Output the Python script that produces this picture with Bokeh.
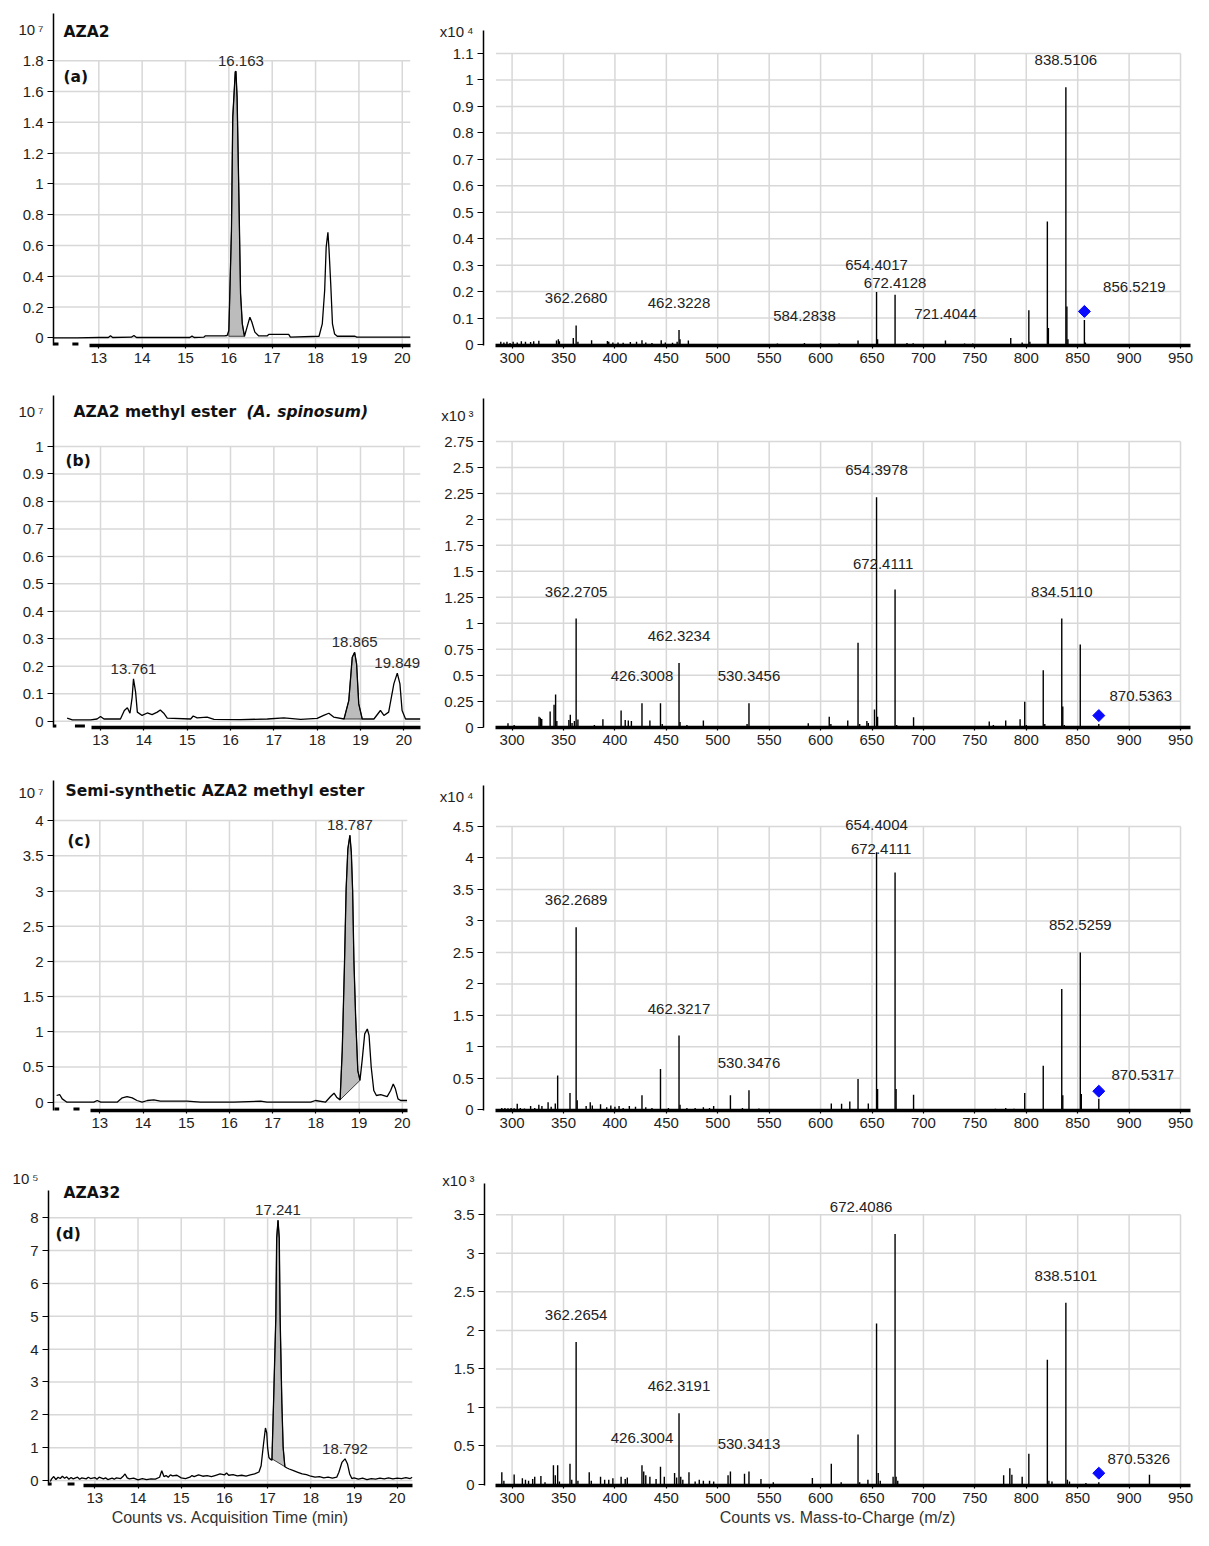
import math
from bokeh.plotting import figure
from bokeh.layouts import column, row
from bokeh.models import (FixedTicker, CustomJSTickFormatter, Label, ColumnDataSource,
                          LinearAxis)
from bokeh.embed import file_html
from bokeh.resources import INLINE
from bokeh.core.properties import value

# ======================= DATA =======================
rt_ticks = [13, 14, 15, 16, 17, 18, 19, 20]
mz_ticks = [300, 350, 400, 450, 500, 550, 600, 650, 700, 750, 800, 850, 900, 950]

# ---- (a) AZA2 chromatogram, counts x10^7
chrom_a_t = [11.96, 12.5, 13.0, 13.22, 13.27, 13.32, 13.75, 13.81, 13.87, 15.1, 15.15, 15.2,
             15.42, 15.46, 15.9, 15.96, 16.0, 16.06, 16.09, 16.148, 16.163, 16.19, 16.23, 16.27,
             16.31, 16.36, 16.42, 16.485, 16.53, 16.6, 16.69, 16.88, 16.92, 17.38, 17.42, 18.08,
             18.155, 18.21, 18.245, 18.285, 18.31, 18.35, 18.39, 18.44, 18.5, 18.91, 18.95, 20.19]
chrom_a_v = [0.0, 0.0, 0.002, 0.002, 0.013, 0.002, 0.004, 0.015, 0.002, 0.002, 0.011, 0.002,
             0.004, 0.013, 0.013, 0.015, 0.047, 0.70, 1.433, 1.729, 1.732, 1.563, 0.946, 0.286,
             0.091, 0.01, 0.069, 0.134, 0.103, 0.037, 0.012, 0.012, 0.022, 0.022, 0.004, 0.01,
             0.09, 0.307, 0.589, 0.686, 0.576, 0.35, 0.09, 0.024, 0.01, 0.01, 0.004, 0.004]
chrom_a_yticks = [0, 0.2, 0.4, 0.6, 0.8, 1, 1.2, 1.4, 1.6, 1.8]
chrom_a_peak_rt = [16.163]
chrom_a_peak_h = [1.732]
chrom_a_shade_t = [16.0, 16.36]
chrom_a_shade_base = [0.01, 0.01]

# ---- (b) AZA2 methyl ester (A. spinosum), counts x10^7
chrom_b_t = [12.23, 12.35, 12.77, 12.92, 13.0, 13.08, 13.46, 13.55, 13.62, 13.68, 13.73, 13.761,
             13.81, 13.85, 13.96, 14.08, 14.19, 14.31, 14.38, 14.46, 14.54, 15.08, 15.14, 15.23,
             15.46, 15.62, 16.23, 16.85, 17.23, 17.62, 18.0, 18.15, 18.27, 18.38, 18.62, 18.73,
             18.81, 18.865, 18.91, 18.96, 19.04, 19.31, 19.46, 19.54, 19.65, 19.77, 19.849, 19.91,
             19.96, 20.04, 20.38]
chrom_b_v = [0.011, 0.005, 0.005, 0.008, 0.017, 0.008, 0.008, 0.039, 0.049, 0.029, 0.087, 0.154,
             0.106, 0.033, 0.021, 0.030, 0.024, 0.033, 0.041, 0.029, 0.011, 0.008, 0.019, 0.012,
             0.015, 0.007, 0.006, 0.008, 0.012, 0.007, 0.010, 0.021, 0.029, 0.015, 0.008, 0.075,
             0.233, 0.251, 0.209, 0.063, 0.008, 0.008, 0.039, 0.021, 0.033, 0.136, 0.175, 0.136,
             0.039, 0.008, 0.008]
chrom_b_yticks = [0, 0.1, 0.2, 0.3, 0.4, 0.5, 0.6, 0.7, 0.8, 0.9, 1]
chrom_b_peak_rt = [13.761, 18.865, 19.849]
chrom_b_peak_h = [0.154, 0.251, 0.175]
chrom_b_shade_t = [18.62, 19.04]
chrom_b_shade_base = [0.008, 0.008]

# ---- (c) Semi-synthetic AZA2 methyl ester, counts x10^7
chrom_c_t = [12.0, 12.07, 12.13, 12.24, 12.86, 12.94, 13.02, 13.4, 13.52, 13.63, 13.75, 13.86,
             13.98, 14.1, 14.25, 14.4, 15.02, 15.33, 16.1, 16.72, 16.87, 17.88, 17.99, 18.22,
             18.34, 18.42, 18.48, 18.56, 18.61, 18.66, 18.70, 18.74, 18.787, 18.82, 18.85, 18.88,
             18.92, 18.97, 19.02, 19.07, 19.13, 19.19, 19.23, 19.28, 19.34, 19.4, 19.5, 19.65,
             19.73, 19.79, 19.84, 19.9, 19.96, 20.11]
chrom_c_v = [0.095, 0.109, 0.047, 0.0, 0.0, 0.024, 0.0, 0.0, 0.062, 0.08, 0.062, 0.024,
             0.0, 0.024, 0.033, 0.014, 0.014, 0.0, 0.0, 0.014, 0.0, 0.0, 0.024, 0.0,
             0.08, 0.128, 0.071, 0.033, 0.734, 1.918, 3.03, 3.6, 3.79, 3.55, 3.01, 2.01,
             1.21, 0.45, 0.31, 0.59, 0.97, 1.04, 0.95, 0.5, 0.166, 0.095, 0.109, 0.08,
             0.166, 0.26, 0.19, 0.047, 0.024, 0.024]
chrom_c_yticks = [0, 0.5, 1, 1.5, 2, 2.5, 3, 3.5, 4]
chrom_c_peak_rt = [18.787]
chrom_c_peak_h = [3.79]
chrom_c_shade_t = [18.56, 19.02]
chrom_c_shade_base = [0.033, 0.31]

# ---- (d) AZA32, counts x10^5
chrom_d_t = [11.97, 12.0, 12.05, 12.1, 12.15, 12.2, 12.25, 12.3, 12.35, 12.4, 12.45, 12.5, 12.6,
             12.65, 12.7, 12.8, 12.85, 12.9, 13.0, 13.05, 13.1, 13.2, 13.25, 13.3, 13.4, 13.45,
             13.5, 13.6, 13.65, 13.7, 13.75, 13.8, 13.9, 14.0, 14.1, 14.2, 14.3, 14.4, 14.5,
             14.55, 14.6, 14.65, 14.7, 14.75, 14.8, 14.9, 15.0, 15.1, 15.2, 15.25, 15.3, 15.4,
             15.5, 15.6, 15.7, 15.8, 15.9, 16.0, 16.05, 16.1, 16.2, 16.3, 16.4, 16.5, 16.6,
             16.7, 16.8, 16.85, 16.9, 16.95, 16.98, 17.0, 17.03, 17.06, 17.1, 17.14, 17.19,
             17.21, 17.241, 17.27, 17.29, 17.33, 17.36, 17.4, 17.45, 17.5, 17.6, 17.7, 17.8,
             17.9, 18.0, 18.1, 18.2, 18.3, 18.4, 18.5, 18.6, 18.65, 18.72, 18.792, 18.85, 18.9,
             18.95, 19.0, 19.1, 19.2, 19.3, 19.4, 19.5, 19.6, 19.7, 19.8, 19.9, 20.0, 20.1,
             20.2, 20.3, 20.35]
chrom_d_v = [-0.03, 0.05, 0.12, 0.03, 0.10, 0.06, 0.13, 0.07, 0.11, 0.04, 0.09, 0.05, 0.10,
             0.04, 0.08, 0.05, 0.10, 0.06, 0.09, 0.04, 0.10, 0.05, 0.08, 0.03, 0.07, 0.04,
             0.08, 0.06, 0.12, 0.20, 0.08, 0.05, 0.07, 0.02, 0.06, 0.03, 0.05, 0.04, 0.10,
             0.30, 0.12, 0.15, 0.10, 0.17, 0.14, 0.16, 0.08, 0.06, 0.10, 0.15, 0.12, 0.17,
             0.13, 0.15, 0.12, 0.16, 0.20, 0.17, 0.23, 0.16, 0.18, 0.14, 0.16, 0.13, 0.17,
             0.20, 0.26, 0.45, 1.05, 1.60, 1.45, 1.00, 0.70, 0.65, 0.62, 2.49, 4.96,
             7.38, 7.92, 7.38, 4.96, 2.35, 1.00, 0.42, 0.38, 0.35, 0.30, 0.25, 0.20,
             0.18, 0.13, 0.10, 0.12, 0.08, 0.10, 0.07, 0.10, 0.25, 0.55, 0.66, 0.50, 0.20,
             0.06, 0.08, 0.04, 0.07, 0.03, 0.06, 0.04, 0.07, 0.05, 0.08, 0.05, 0.07, 0.06,
             0.09, 0.06, 0.10]
chrom_d_yticks = [0, 1, 2, 3, 4, 5, 6, 7, 8]
chrom_d_peak_rt = [17.241, 18.792]
chrom_d_peak_h = [7.92, 0.66]
chrom_d_shade_t = [17.1, 17.4]
chrom_d_shade_base = [0.66, 0.42]

# ---- (a) MS/MS spectrum, counts x10^4
spec_a_mz = [289.0, 292.0, 295.0, 298.0, 301.0, 305.0, 309.0, 313.0, 318.0, 321.0,
             326.0, 343.2, 345.0, 346.0, 359.5, 362.2680, 364.0, 377.3, 392.7, 394.0,
             398.0, 403.0, 408.0, 415.0, 421.0, 426.3, 430.0, 436.0, 445.0, 449.0,
             456.0, 460.5, 462.3228, 463.3, 471.4, 558.0, 584.2838, 600.0, 618.0, 636.4,
             654.4017, 655.4, 672.4128, 684.0, 690.0, 721.4044, 740.0, 748.0, 784.9, 796.0,
             802.5, 803.5, 820.5, 821.5, 838.5106, 839.5, 840.5, 856.5219, 857.5]
spec_a_h = [0.010, 0.008, 0.010, 0.006, 0.010, 0.008, 0.012, 0.010, 0.009, 0.012,
            0.014, 0.015, 0.020, 0.012, 0.025, 0.072, 0.010, 0.016, 0.013, 0.010,
            0.008, 0.008, 0.007, 0.009, 0.010, 0.016, 0.008, 0.006, 0.016, 0.008,
            0.007, 0.010, 0.055, 0.020, 0.015, 0.004, 0.006, 0.005, 0.004, 0.015,
            0.198, 0.020, 0.188, 0.006, 0.005, 0.015, 0.004, 0.004, 0.025, 0.008,
            0.129, 0.010, 0.465, 0.062, 0.973, 0.144, 0.020, 0.093, 0.008]
spec_a_yticks = [0, 0.1, 0.2, 0.3, 0.4, 0.5, 0.6, 0.7, 0.8, 0.9, 1, 1.1]
spec_a_labels = [362.2680, 462.3228, 584.2838, 654.4017, 672.4128, 721.4044, 838.5106, 856.5219]
spec_a_precursor = [856.5219]
spec_a_precursor_y = [0.125]

# ---- (b) MS/MS spectrum, counts x10^3
spec_b_mz = [296.0, 302.0, 326.2, 327.5, 328.8, 337.0, 340.8, 342.3, 343.5, 355.2,
             356.6, 358.3, 360.6, 362.2705, 364.0, 380.0, 388.3, 406.0, 410.0, 413.0,
             416.0, 426.3008, 434.0, 444.3, 446.0, 462.3234, 463.3, 470.0, 486.0, 528.5,
             530.3456, 588.0, 608.4, 610.0, 626.4, 636.4, 638.0, 645.0, 646.4, 652.4,
             654.3978, 655.4, 672.4111, 674.0, 690.4, 764.0, 768.0, 780.0, 794.0, 798.5,
             800.0, 816.5, 818.0, 834.5110, 835.5, 837.0, 852.5, 870.5363]
spec_b_h = [0.038, 0.020, 0.100, 0.090, 0.080, 0.150, 0.215, 0.314, 0.060, 0.070,
            0.119, 0.040, 0.060, 1.046, 0.074, 0.020, 0.077, 0.160, 0.070, 0.065,
            0.060, 0.231, 0.064, 0.231, 0.030, 0.619, 0.050, 0.020, 0.064, 0.030,
            0.231, 0.038, 0.100, 0.030, 0.064, 0.812, 0.030, 0.060, 0.040, 0.170,
            2.214, 0.100, 1.325, 0.020, 0.096, 0.055, 0.020, 0.064, 0.077, 0.244,
            0.020, 0.549, 0.030, 1.046, 0.200, 0.020, 0.796, 0.030]
spec_b_yticks = [0, 0.25, 0.5, 0.75, 1, 1.25, 1.5, 1.75, 2, 2.25, 2.5, 2.75]
spec_b_labels = [362.2705, 426.3008, 462.3234, 530.3456, 654.3978, 672.4111, 834.5110, 870.5363]
spec_b_precursor = [870.5363]
spec_b_precursor_y = [0.112]

# ---- (c) MS/MS spectrum, counts x10^4
spec_c_mz = [290.0, 293.0, 296.0, 299.0, 302.0, 305.0, 308.0, 312.0, 318.0, 322.0,
             326.0, 329.0, 335.0, 338.0, 342.0, 344.3, 356.3, 362.2689, 363.3, 372.0,
             376.0, 378.0, 386.0, 392.0, 396.0, 400.0, 404.0, 408.0, 414.0, 420.0,
             426.3, 430.0, 436.0, 444.3, 452.0, 462.3217, 463.3, 470.0, 478.0, 486.0,
             492.0, 496.0, 512.3, 524.0, 530.3476, 540.0, 570.0, 590.0, 600.0, 610.4,
             620.4, 628.4, 636.4, 646.4, 654.4004, 655.4, 672.4111, 673.4, 690.4, 770.0,
             780.0, 788.0, 798.5, 806.0, 816.5, 834.5, 835.5, 852.5259, 853.5, 870.5317]
spec_c_h = [0.030, 0.030, 0.025, 0.030, 0.025, 0.095, 0.030, 0.020, 0.060, 0.030,
            0.080, 0.060, 0.120, 0.050, 0.100, 0.545, 0.265, 2.900, 0.150, 0.060,
            0.120, 0.070, 0.090, 0.040, 0.070, 0.050, 0.060, 0.030, 0.060, 0.050,
            0.230, 0.040, 0.030, 0.650, 0.030, 1.180, 0.080, 0.030, 0.030, 0.040,
            0.030, 0.060, 0.230, 0.030, 0.310, 0.020, 0.010, 0.010, 0.010, 0.100,
            0.095, 0.130, 0.490, 0.100, 4.090, 0.330, 3.770, 0.330, 0.240, 0.015,
            0.030, 0.015, 0.265, 0.010, 0.700, 1.920, 0.230, 2.500, 0.250, 0.175]
spec_c_yticks = [0, 0.5, 1, 1.5, 2, 2.5, 3, 3.5, 4, 4.5]
spec_c_labels = [362.2689, 462.3217, 530.3476, 654.4004, 672.4111, 852.5259, 870.5317]
spec_c_precursor = [870.5317]
spec_c_precursor_y = [0.296]

# ---- (d) MS/MS spectrum, counts x10^3
spec_d_mz = [290.0, 292.0, 302.0, 310.0, 313.0, 316.0, 320.0, 322.0, 328.0, 332.0,
             340.2, 342.0, 344.3, 346.0, 356.3, 358.0, 362.2654, 364.0, 375.0, 377.0,
             386.0, 390.0, 394.0, 398.0, 406.0, 410.0, 412.0, 426.3004, 428.0, 430.0,
             434.0, 440.0, 444.3, 448.0, 458.0, 460.0, 462.3191, 464.0, 466.0, 472.0,
             478.0, 482.0, 486.0, 492.0, 496.0, 510.0, 512.3, 526.0, 530.3413, 542.0,
             554.0, 592.0, 610.4, 620.0, 636.4, 638.0, 646.0, 654.4, 656.0, 658.0,
             670.5, 672.4086, 673.4, 675.0, 778.0, 784.0, 786.0, 796.0, 802.5, 820.5,
             822.0, 825.0, 838.5101, 840.0, 842.0, 858.0, 870.5326, 919.8]
spec_d_h = [0.160, 0.050, 0.130, 0.080, 0.060, 0.050, 0.070, 0.100, 0.110, 0.030,
            0.250, 0.120, 0.250, 0.040, 0.270, 0.060, 1.850, 0.050, 0.160, 0.050,
            0.100, 0.060, 0.060, 0.080, 0.100, 0.070, 0.090, 0.250, 0.170, 0.120,
            0.100, 0.070, 0.230, 0.100, 0.150, 0.090, 0.925, 0.100, 0.060, 0.160,
            0.040, 0.060, 0.050, 0.050, 0.040, 0.120, 0.170, 0.140, 0.170, 0.070,
            0.030, 0.084, 0.270, 0.030, 0.650, 0.030, 0.060, 2.090, 0.150, 0.050,
            0.100, 3.250, 0.100, 0.050, 0.120, 0.210, 0.126, 0.100, 0.400, 1.620,
            0.050, 0.040, 2.360, 0.060, 0.040, 0.020, 0.030, 0.126]
spec_d_yticks = [0, 0.5, 1, 1.5, 2, 2.5, 3, 3.5]
spec_d_labels = [362.2654, 426.3004, 462.3191, 530.3413, 672.4086, 838.5101, 870.5326]
spec_d_precursor = [870.5326]
spec_d_precursor_y = [0.147]

chrom_titles = ["AZA2", "AZA2 methyl ester", "Semi-synthetic AZA2 methyl ester", "AZA32"]
chrom_title_italic = ["", "(A. spinosum)", "", ""]
panel_tags = ["(a)", "(b)", "(c)", "(d)"]
chrom_scale_text = ["10\u2009\u2077", "10\u2009\u2077", "10\u2009\u2077", "10\u2009\u2075"]
spec_scale_text = ["x10\u2009\u2074", "x10\u2009\u00b3", "x10\u2009\u2074", "x10\u2009\u00b3"]
xlabel_time = "Counts vs. Acquisition Time (min)"
xlabel_mz = "Counts vs. Mass-to-Charge (m/z)"

# ======================= LAYOUT / STYLE =======================
LEFT_W, RIGHT_W = 430, 763
ROW_Y = [0, 383, 765, 1150]
ROW_H = [383, 382, 385, 380]
ROW_MBT = [13, 12, 15, 25]
ROW_MBB = [38, 38, 40, 45]
GRID = "#d8d8d8"
NUM_FONT = "Liberation Sans"
TITLE_FONT = "DejaVu Sans"
TXT = "#1e1e1e"

chrom_geom = [
    dict(mbl=53, mbr=20, xr=(11.955, 20.19), yr=(-0.05, 2.107), ytop=2.107, exp=2.003,
         ax0=12.79, dashes=[(11.96, 12.07), (12.39, 12.53)]),
    dict(mbl=53, mbr=10, xr=(11.915, 20.385), yr=(-0.0229, 1.1857), ytop=1.1857, exp=1.127,
         ax0=12.80, dashes=[(11.92, 11.98), (12.41, 12.64)]),
    dict(mbl=53, mbr=23, xr=(11.928, 20.12), yr=(-0.118, 4.57), ytop=4.57, exp=4.399,
         ax0=12.78, dashes=[(11.95, 12.06), (12.39, 12.53)]),
    dict(mbl=48, mbr=18, xr=(11.928, 20.354), yr=(-0.152, 9.287), ytop=8.83, exp=9.21,
         ax0=12.73, dashes=[(11.93, 12.0), (12.37, 12.53)], title_bounds=(13.33, 20.354)),
]
spec_geom = [
    dict(mbl=53, mbr=3, xr=(272.19, 959.7), yr=(-0.0038, 1.2514), ytop=1.187, exp=1.182),
    dict(mbl=53, mbr=3, xr=(272.19, 959.7), yr=(-0.0029, 3.1925), ytop=3.164, exp=3.003),
    dict(mbl=53, mbr=3, xr=(272.19, 959.7), yr=(-0.011, 5.23), ytop=5.151, exp=4.973),
    dict(mbl=54, mbr=3, xr=(273.16, 959.7), yr=(-0.013, 4.01), ytop=3.906, exp=3.951,
         title_bounds=(284.3, 814.3)),
]
SPEC_AX0, SPEC_GRID_END = 284.3, 950

# label offsets in pixels (dx, dy of label centre relative to stick top)
SPEC_DEFAULT_OFF = (0, -27)
spec_label_off = [
    {672.4128: (0, -12), 856.5219: (50, -33)},
    {672.4111: (-12, -26), 870.5363: (42, -28)},
    {672.4111: (-14, -23), 870.5317: (44, -24)},
    {672.4086: (-34, -27), 870.5326: (40, -23)},
]
chrom_label_dx = [[5], [0, 0, 0], [0], [0, 0]]

# page positions of in-frame panel texts
chrom_text_pos = [
    dict(title=(63, 31.7), ital=None, tag=(63, 76)),
    dict(title=(73, 411.7), ital=(246, 411.7), tag=(65, 460)),
    dict(title=(65, 790.7), ital=None, tag=(67, 840)),
    dict(title=(63, 1192.3), ital=None, tag=(55, 1233.3)),
]


def num_fmt():
    return CustomJSTickFormatter(code="return String(Math.round(tick*1000)/1000);")


def base_fig(i, g, w):
    p = figure(width=w, height=ROW_H[i], x_range=g["xr"], y_range=g["yr"],
               output_backend="svg", toolbar_location=None, tools="",
               min_border_left=g["mbl"], min_border_right=g["mbr"],
               min_border_top=ROW_MBT[i], min_border_bottom=ROW_MBB[i])
    p.outline_line_color = None
    p.xgrid.visible = False
    p.ygrid.visible = False
    p.background_fill_color = "white"
    p.border_fill_color = "white"
    xa, ya = p.xaxis[0], p.yaxis[0]
    for ax in (xa, ya):
        ax.major_label_text_font = NUM_FONT
        ax.major_label_text_font_size = "15px"
        ax.major_label_text_color = TXT
        ax.minor_tick_line_color = None
        ax.major_tick_in = 0
        ax.axis_line_color = "black"
        ax.major_tick_line_color = "black"
    # inner y axis: line + tick marks only
    ya.axis_line_width = 1.5
    ya.major_tick_out = 6
    ya.major_tick_line_width = 1.2
    ya.major_label_standoff = 0
    ya.formatter = CustomJSTickFormatter(code='return "";')
    ya.bounds = (g["yr"][0], g["ytop"])
    xa.axis_line_width = 3.5
    xa.major_tick_out = 3
    xa.major_tick_line_width = 1.2
    xa.major_label_standoff = 4
    xa.formatter = num_fmt()
    return p, xa, ya


def add_tick_labels(p, yticks, exp_val, exp_txt):
    ax2 = LinearAxis(
        ticker=FixedTicker(ticks=list(yticks) + [exp_val]),
        formatter=CustomJSTickFormatter(
            args=dict(e=exp_val, s=exp_txt),
            code="if (Math.abs(tick - e) < 1e-6) { return s; } "
                 "return String(Math.round(tick*1000)/1000);"),
        axis_line_color=None, major_tick_line_color=None, minor_tick_line_color=None,
        major_tick_out=0, major_tick_in=0, major_label_standoff=4,
        major_label_text_font=NUM_FONT, major_label_text_font_size="15px",
        major_label_text_color=TXT)
    p.add_layout(ax2, "left")


def add_axis_title(p, bounds, text):
    ax3 = LinearAxis(
        ticker=FixedTicker(ticks=[]), bounds=bounds,
        axis_line_color=None, major_tick_line_color=None, minor_tick_line_color=None,
        major_tick_out=0, major_tick_in=0, major_label_standoff=0,
        axis_label=text, axis_label_standoff=3,
        axis_label_text_font=NUM_FONT, axis_label_text_font_size="16px",
        axis_label_text_font_style="normal", axis_label_text_color="#333333")
    p.add_layout(ax3, "below")


def add_grid(p, xt, yt, gx0, gx1, gy0, gy1):
    p.segment(x0=xt, y0=[gy0] * len(xt), x1=xt, y1=[gy1] * len(xt),
              line_color=GRID, line_width=1.5, level="underlay")
    p.segment(x0=[gx0] * len(yt), y0=yt, x1=[gx1] * len(yt), y1=yt,
              line_color=GRID, line_width=1.5, level="underlay")


def frame_text(p, fl, fb, pos, text, size="15.5px", style="bold", font=TITLE_FONT):
    rx, ry = pos
    p.add_layout(Label(x=rx - fl, y=fb - ry, x_units="screen", y_units="screen", text=text,
                       text_font=font, text_font_size=size, text_font_style=style,
                       text_align="left", text_baseline="middle", text_color="#111111"))


def chrom_panel(i, t, v, yticks, prt, ph, sh_t, sh_b):
    g = chrom_geom[i]
    p, xa, ya = base_fig(i, g, LEFT_W)
    fl = g["mbl"]
    fb = ROW_Y[i] + ROW_H[i] - ROW_MBB[i]
    xa.ticker = FixedTicker(ticks=rt_ticks)
    xa.bounds = (g["ax0"], g["xr"][1])
    ya.ticker = FixedTicker(ticks=yticks)
    add_tick_labels(p, yticks, g["exp"], chrom_scale_text[i])
    add_grid(p, rt_ticks, yticks, g["xr"][0], g["xr"][1], g["yr"][0], max(yticks))
    ys = g["yr"][0]
    p.segment(x0=[d[0] for d in g["dashes"]], y0=[ys] * len(g["dashes"]),
              x1=[d[1] for d in g["dashes"]], y1=[ys] * len(g["dashes"]),
              line_color="black", line_width=6)
    px = [tt for tt in t if sh_t[0] <= tt <= sh_t[1]] + [sh_t[1], sh_t[0]]
    py = [vv for tt, vv in zip(t, v) if sh_t[0] <= tt <= sh_t[1]] + [sh_b[1], sh_b[0]]
    p.patch(px, py, fill_color="#bcbcbc", line_color="#3a3a3a", line_width=1.0)
    p.line(t, v, line_color="black", line_width=1.3)
    src = ColumnDataSource(dict(x=prt, y=ph, txt=["%.3f" % r for r in prt], dx=chrom_label_dx[i]))
    p.text(x="x", y="y", text="txt", x_offset="dx", y_offset=-10, source=src,
           text_font=value(NUM_FONT), text_font_size="15px", text_color="#2a2a2a",
           text_align="center", text_baseline="middle")
    tp = chrom_text_pos[i]
    title = chrom_titles[i] + (" " if chrom_title_italic[i] else "")
    frame_text(p, fl, fb, tp["title"], title)
    if chrom_title_italic[i]:
        frame_text(p, fl, fb, tp["ital"], chrom_title_italic[i], style="bold italic")
    frame_text(p, fl, fb, tp["tag"], panel_tags[i])
    if "title_bounds" in g:
        add_axis_title(p, g["title_bounds"], xlabel_time)
    return p


def spec_panel(i, mz, h, yticks, labels, prec, prec_y):
    g = spec_geom[i]
    p, xa, ya = base_fig(i, g, RIGHT_W)
    xa.ticker = FixedTicker(ticks=mz_ticks)
    xa.bounds = (SPEC_AX0, g["xr"][1])
    ya.ticker = FixedTicker(ticks=yticks)
    add_tick_labels(p, yticks, g["exp"], spec_scale_text[i])
    add_grid(p, mz_ticks, yticks, SPEC_AX0, SPEC_GRID_END, g["yr"][0], max(yticks))
    p.segment(x0=mz, y0=[0] * len(mz), x1=mz, y1=h, line_color="black", line_width=1.4)
    p.scatter(x=prec, y=prec_y, marker="square", angle=math.pi / 4, size=8.5,
              fill_color="#0a0aff", line_color="#0a0aff")
    offs = [spec_label_off[i].get(m, SPEC_DEFAULT_OFF) for m in labels]
    src = ColumnDataSource(dict(
        x=labels, y=[h[mz.index(m)] for m in labels], txt=["%.4f" % m for m in labels],
        dx=[o[0] for o in offs], dy=[o[1] for o in offs]))
    p.text(x="x", y="y", text="txt", x_offset="dx", y_offset="dy", source=src,
           text_font=value(NUM_FONT), text_font_size="15px", text_color="#222222",
           text_align="center", text_baseline="middle")
    if "title_bounds" in g:
        add_axis_title(p, g["title_bounds"], xlabel_mz)
    return p


ca = chrom_panel(0, chrom_a_t, chrom_a_v, chrom_a_yticks, chrom_a_peak_rt, chrom_a_peak_h,
                 chrom_a_shade_t, chrom_a_shade_base)
cb = chrom_panel(1, chrom_b_t, chrom_b_v, chrom_b_yticks, chrom_b_peak_rt, chrom_b_peak_h,
                 chrom_b_shade_t, chrom_b_shade_base)
cc = chrom_panel(2, chrom_c_t, chrom_c_v, chrom_c_yticks, chrom_c_peak_rt, chrom_c_peak_h,
                 chrom_c_shade_t, chrom_c_shade_base)
cd = chrom_panel(3, chrom_d_t, chrom_d_v, chrom_d_yticks, chrom_d_peak_rt, chrom_d_peak_h,
                 chrom_d_shade_t, chrom_d_shade_base)
sa = spec_panel(0, spec_a_mz, spec_a_h, spec_a_yticks, spec_a_labels, spec_a_precursor, spec_a_precursor_y)
sb = spec_panel(1, spec_b_mz, spec_b_h, spec_b_yticks, spec_b_labels, spec_b_precursor, spec_b_precursor_y)
sc = spec_panel(2, spec_c_mz, spec_c_h, spec_c_yticks, spec_c_labels, spec_c_precursor, spec_c_precursor_y)
sd = spec_panel(3, spec_d_mz, spec_d_h, spec_d_yticks, spec_d_labels, spec_d_precursor, spec_d_precursor_y)

layout = column(row(ca, sa), row(cb, sb), row(cc, sc), row(cd, sd))
open("out.html", "w").write(file_html(layout, INLINE))
